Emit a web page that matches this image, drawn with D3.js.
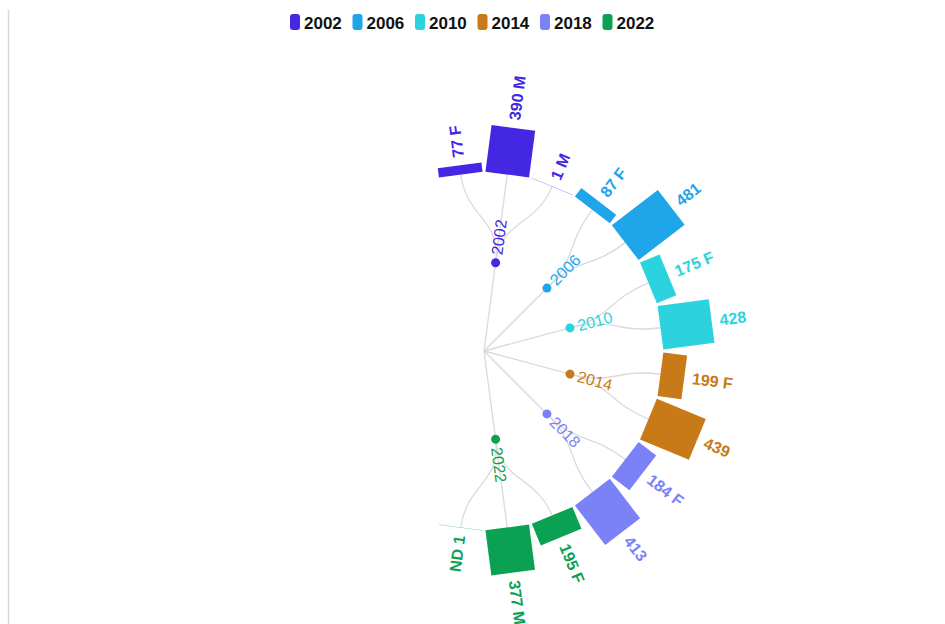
<!DOCTYPE html>
<html>
<head>
<meta charset="utf-8">
<script src="https://cdn.jsdelivr.net/npm/d3@7"></script>
<style>
  body { margin: 0; background: #fff; }
  svg { display: block; font-family: "Liberation Sans", Arial, sans-serif; }
</style>
</head>
<body>
<svg id="chart" width="945" height="624"></svg>
<script>
// data
const years = ["2002", "2006", "2010", "2014", "2018", "2022"];
const yearColors = ["#4427e2", "#1ea5ea", "#2cd3de", "#c77a17", "#7b82f7", "#0ba152"];
const leafYears = ["2002", "2002", "2002", "2006", "2006", "2010", "2010", "2014", "2014", "2018", "2018", "2022", "2022", "2022"];
const leafLabels = ["77 F", "390 M", "1 M", "87 F", "481", "175 F", "428", "199 F", "439", "184 F", "413", "195 F", "377 M", "ND 1"];
const leafValues = [77, 390, 1, 87, 481, 175, 428, 199, 439, 184, 413, 195, 377, 1];

(function(){
    const width = 945, height = 624;
    const cx = 484, cy = 351;
    const radius = 178;
    const step = 15 * Math.PI / 180;          // angle between two leaves
    const startAngle = -15 * Math.PI / 180;
    const barWidth = 44;

    const svg = d3.select("svg#chart");

    // left border line
    svg.append("line")
        .attr("x1", 8.5).attr("x2", 8.5)
        .attr("y1", 10).attr("y2", height)
        .attr("stroke", "#d6d6d6")
        .attr("stroke-width", 1.5);

    const color = d3.scaleOrdinal().domain(years).range(yearColors);

    // legend
    const legend = svg.append("g").attr("transform", "translate(290,14)");
    const item = legend.selectAll("g")
        .data(years)
        .enter()
        .append("g")
        .attr("transform", (d, i) => "translate(" + (i * 62.5) + ",0)");
    item.append("rect")
        .attr("width", 10).attr("height", 16)
        .attr("rx", 3)
        .attr("fill", d => color(d));
    item.append("text")
        .attr("x", 14).attr("y", 14.5)
        .attr("font-size", "17px")
        .attr("font-weight", "bold")
        .attr("fill", "#111")
        .text(d => d);

    // hierarchy: root -> year -> leaf
    const rootData = {
        name: "root",
        children: years.map(y => ({
            name: y,
            children: leafLabels
                .map((l, i) => ({ name: l, value: leafValues[i], year: leafYears[i] }))
                .filter(d => d.year === y)
        }))
    };

    const root = d3.hierarchy(rootData);
    d3.cluster()
        .size([step * leafValues.length, radius])
        .separation(() => 1)(root);
    root.each(d => { d.x += startAngle; });

    const barLen = d3.scaleLinear()
        .domain([0, d3.max(leafValues)])
        .range([0, 58]);

    const g = svg.append("g")
        .attr("transform", "translate(" + cx + "," + cy + ")");

    const links = g.append("g")
        .attr("fill", "none")
        .attr("stroke", "#dadada")
        .attr("stroke-width", 1.3);

    // root -> year: straight spokes
    links.selectAll("line")
        .data(root.children)
        .enter()
        .append("line")
        .attr("x1", 0).attr("y1", 0)
        .attr("x2", d => d.y * Math.sin(d.x))
        .attr("y2", d => -d.y * Math.cos(d.x));

    // year -> leaf: radial curves
    links.selectAll("path")
        .data(root.links().filter(l => l.source.depth === 1))
        .enter()
        .append("path")
        .attr("d", d3.linkRadial().angle(d => d.x).radius(d => d.y));

    // year nodes
    const yearNodes = g.selectAll("g.year")
        .data(root.children)
        .enter()
        .append("g")
        .attr("class", "year")
        .attr("transform", d => "rotate(" + (d.x * 180 / Math.PI - 90) + ") translate(" + d.y + ",0)");
    yearNodes.append("circle")
        .attr("r", 4.5)
        .attr("fill", d => color(d.data.name));
    yearNodes.append("text")
        .attr("x", 8)
        .attr("dy", "0.35em")
        .attr("font-size", "16px")
        .attr("fill", d => color(d.data.name))
        .text(d => d.data.name);

    // leaves
    const leaves = g.selectAll("g.leaf")
        .data(root.leaves())
        .enter()
        .append("g")
        .attr("class", "leaf")
        .attr("transform", d => "rotate(" + (d.x * 180 / Math.PI - 90) + ") translate(" + d.y + ",0)");
    leaves.append("rect")
        .attr("x", 0)
        .attr("y", -barWidth / 2)
        .attr("width", d => barLen(d.data.value))
        .attr("height", barWidth)
        .attr("fill", d => color(d.data.year));
    leaves.append("text")
        .attr("dy", "0.35em")
        .attr("font-size", "16px")
        .attr("font-weight", "bold")
        .attr("fill", d => color(d.data.year))
        .attr("transform", d => {
            const off = barLen(d.data.value) + 8;
            return d.x >= Math.PI ? "translate(" + off + ",0) rotate(180)" : "translate(" + off + ",0)";
        })
        .attr("text-anchor", d => d.x >= Math.PI ? "end" : "start")
        .text(d => d.data.name);
})()
</script>
</body>
</html>
